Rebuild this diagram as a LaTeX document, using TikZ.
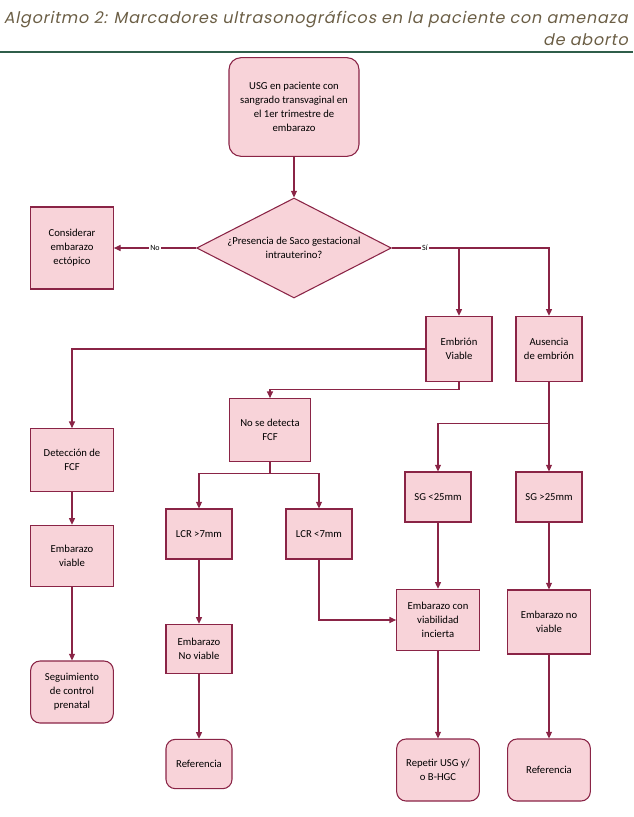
\documentclass[tikz,border=0pt]{standalone}
\usepackage{fontspec}
\setmainfont{Carlito}
\newfontfamily\titlefont[FakeSlant=0.2,LetterSpace=5]{Poppins}
\usetikzlibrary{shapes.geometric,arrows.meta}

\definecolor{rosa}{HTML}{F8D3D9}
\definecolor{vino}{HTML}{8A2446}
\definecolor{oliva}{HTML}{6B5E45}
\definecolor{verde}{HTML}{2F5E4A}

\tikzset{
  box/.style={draw=vino, fill=rosa, line width=0.8pt, align=center, inner sep=2pt,
    font=\fontsize{8}{10.5}\selectfont},
  rbox/.style={box, rounded corners=7pt},
  decision/.style={box, diamond, aspect=2, inner sep=0pt},
  wide/.style={minimum width=62pt},
  narrow/.style={minimum width=49.5pt},
  arr/.style={draw=vino, line width=0.8pt, -{Triangle[length=5pt,width=4.5pt]}},
  lbl/.style={font=\fontsize{6}{7}\selectfont, fill=white, inner sep=1pt},
  titulo/.style={anchor=east, inner sep=0pt, text=oliva, font=\titlefont\fontsize{12}{14}\selectfont},
}

\begin{document}
\begin{tikzpicture}[x=0.75pt,y=-0.75pt]
    \useasboundingbox (0,0) rectangle (633,817);

    % title
    \node[titulo] (tit1) at (628,19) {Algoritmo 2: Marcadores ultrasonográficos en la paciente con amenaza};
    \node[titulo] (tit2) at (628,40) {de aborto};
    \draw[verde, line width=2.2pt] (0,52) -- (633,52);

    % nodes
    \node[rbox, minimum width=97.5pt, minimum height=74pt, rounded corners=9pt] (usg) at (294,107)
        {USG en paciente con\\sangrado transvaginal en\\el 1er trimestre de\\embarazo};
    \node[decision, minimum width=146pt, minimum height=75pt] (saco) at (294,248)
        {¿Presencia de Saco gestacional\\intrauterino?};
    \node[box, wide, minimum height=61.5pt] (ectopico) at (72,248) {Considerar\\embarazo\\ectópico};
    \node[box, narrow, minimum height=49pt] (viable) at (459,349) {Embrión\\Viable};
    \node[box, narrow, minimum height=49pt] (ausencia) at (549,349) {Ausencia\\de embrión};

    \node[box, wide, minimum height=47pt] (deteccion) at (72,460) {Detección de\\FCF};
    \node[box, minimum width=61pt, minimum height=47pt] (nofcf) at (270,430) {No se detecta\\FCF};
    \node[box, wide, minimum height=46pt] (embviable) at (72,556) {Embarazo\\viable};
    \node[box, narrow, minimum height=37.5pt] (lcrmas) at (199,534) {LCR >7mm};
    \node[box, narrow, minimum height=37.5pt] (lcrmenos) at (319,534) {LCR <7mm};
    \node[box, narrow, minimum height=37.5pt] (sgmenos) at (438,497) {SG <25mm};
    \node[box, narrow, minimum height=37.5pt] (sgmas) at (549,497) {SG >25mm};

    \node[box, wide, minimum height=46pt] (incierta) at (438,620) {Embarazo con\\viabilidad\\incierta};
    \node[box, wide, minimum height=48pt] (noviable) at (549,622) {Embarazo no\\viable};
    \node[box, narrow, minimum height=37pt] (noviableb) at (199,649) {Embarazo\\No viable};

    \node[rbox, wide, minimum height=46.5pt] (seguimiento) at (72,692) {Seguimiento\\de control\\prenatal};
    \node[rbox, narrow, minimum height=37pt] (referencia) at (199,764) {Referencia};
    \node[rbox, wide, minimum height=46.5pt] (repetir) at (438,770) {Repetir USG y/\\o B-HGC};
    \node[rbox, wide, minimum height=46.5pt] (referenciab) at (549,770) {Referencia};

    % connectors
    \draw[arr] (usg) -- (saco);
    \draw[arr] (saco) -- node[lbl] {No} (ectopico);
    \draw[arr] (saco.east) -- node[lbl, pos=0.21] {Sí} (saco.east -| ausencia) -- (ausencia);
    \draw[arr] (saco.east -| viable) -- (viable);
    \draw[arr] (viable.west) -| (deteccion);
    \draw[arr] (viable.south) -- ++(0,7) -| (nofcf);
    \draw[arr] (nofcf.south) -- ++(0,12) -| (lcrmas);
    \draw[arr] (nofcf.south) -- ++(0,12) -| (lcrmenos);
    \draw[arr] (ausencia.south) -- ++(0,41) -| (sgmenos);
    \draw[arr] (ausencia) -- (sgmas);
    \draw[arr] (deteccion) -- (embviable);
    \draw[arr] (embviable) -- (seguimiento);
    \draw[arr] (lcrmas) -- (noviableb);
    \draw[arr] (noviableb) -- (referencia);
    \draw[arr] (lcrmenos.south) |- (incierta.west);
    \draw[arr] (sgmenos) -- (incierta);
    \draw[arr] (sgmas) -- (noviable);
    \draw[arr] (incierta) -- (repetir);
    \draw[arr] (noviable) -- (referenciab);
\end{tikzpicture}
\end{document}
